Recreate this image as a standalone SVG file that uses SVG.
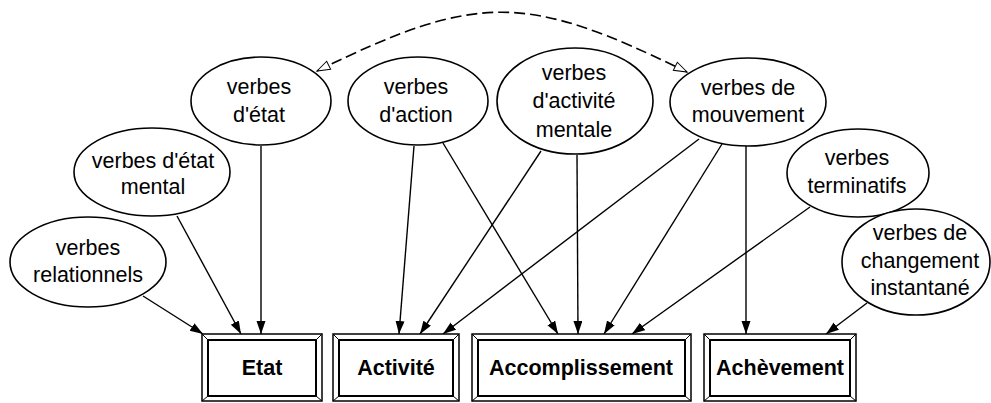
<svg xmlns="http://www.w3.org/2000/svg" width="991" height="403" viewBox="0 0 991 403">
<style>
.e{fill:#fff;stroke:#000;stroke-width:1.6}
.t{font-family:"Liberation Sans",Arial,sans-serif;font-size:21.5px;text-anchor:middle;fill:#000}
.b{font-family:"Liberation Sans",Arial,sans-serif;font-size:21.5px;font-weight:bold;text-anchor:middle;fill:#000}
.o{fill:#fff;stroke:#000;stroke-width:1.5}
.i{fill:none;stroke:#000;stroke-width:2}
.d{stroke:#000;stroke-width:1}
.c{stroke:#000;stroke-width:1.4;fill:none;marker-end:url(#ah)}
.dash{stroke:#000;stroke-width:1.6;fill:none;stroke-dasharray:11 5;marker-start:url(#oh0);marker-end:url(#oh)}
</style>
<defs>
<marker id="ah" markerUnits="userSpaceOnUse" markerWidth="14" markerHeight="10" refX="13" refY="4.5" orient="auto">
<path d="M0,0 L13,4.5 L0,9 Z" fill="#000"/>
</marker>
<marker id="oh" markerUnits="userSpaceOnUse" markerWidth="16" markerHeight="12" refX="14" refY="5.5" orient="auto">
<path d="M1,1 L14,5.5 L1,10 Z" fill="#fff" stroke="#000" stroke-width="1"/>
</marker>
<marker id="oh0" markerUnits="userSpaceOnUse" markerWidth="16" markerHeight="12" refX="14" refY="5.5" orient="auto-start-reverse">
<path d="M1,1 L14,5.5 L1,10 Z" fill="#fff" stroke="#000" stroke-width="1"/>
</marker>
</defs>
<rect width="991" height="403" fill="#fff"/>
<g id="connectors">
<path class="dash" d="M317,71 C478,-8 526,-7 687,72"/>
<line class="c" x1="143" y1="296" x2="203" y2="334"/>
<line class="c" x1="177" y1="216" x2="241" y2="334"/>
<line class="c" x1="261" y1="146" x2="261" y2="334"/>
<line class="c" x1="414" y1="146" x2="399" y2="334"/>
<line class="c" x1="443" y1="143" x2="558" y2="334"/>
<line class="c" x1="541" y1="151" x2="420" y2="334"/>
<line class="c" x1="577" y1="155" x2="578" y2="334"/>
<line class="c" x1="699" y1="139" x2="443" y2="334"/>
<line class="c" x1="722" y1="144" x2="604" y2="334"/>
<line class="c" x1="746" y1="146" x2="746" y2="334"/>
<line class="c" x1="810" y1="207" x2="632" y2="334"/>
<line class="c" x1="867" y1="303" x2="826" y2="334"/>
</g>
<g id="n-relationnels">
<ellipse class="e" cx="88" cy="262" rx="78" ry="45"/>
<text class="t" x="88" y="255">verbes</text>
<text class="t" x="88" y="282">relationnels</text>
</g>
<g id="n-etat-mental">
<ellipse class="e" cx="152" cy="172" rx="78" ry="44"/>
<text class="t" x="153" y="168">verbes d'état</text>
<text class="t" x="153" y="194">mental</text>
</g>
<g id="n-etat">
<ellipse class="e" cx="261" cy="101" rx="70" ry="44"/>
<text class="t" x="259" y="94">verbes</text>
<text class="t" x="259" y="122">d'état</text>
</g>
<g id="n-action">
<ellipse class="e" cx="418" cy="101" rx="70" ry="44"/>
<text class="t" x="416" y="94">verbes</text>
<text class="t" x="416" y="122">d'action</text>
</g>
<g id="n-activite-mentale">
<ellipse class="e" cx="575" cy="101" rx="78" ry="53"/>
<text class="t" x="574" y="80">verbes</text>
<text class="t" x="574" y="108">d'activité</text>
<text class="t" x="574" y="137">mentale</text>
</g>
<g id="n-mouvement">
<ellipse class="e" cx="748" cy="102" rx="78" ry="44"/>
<text class="t" x="748" y="95">verbes de</text>
<text class="t" x="748" y="122">mouvement</text>
</g>
<g id="n-terminatifs">
<ellipse class="e" cx="858" cy="173" rx="71" ry="44"/>
<text class="t" x="857" y="165">verbes</text>
<text class="t" x="857" y="193">terminatifs</text>
</g>
<g id="n-changement">
<ellipse class="e" cx="916" cy="262" rx="74" ry="53"/>
<text class="t" x="920" y="240">verbes de</text>
<text class="t" x="920" y="268">changement</text>
<text class="t" x="920" y="295">instantané</text>
</g>
<g id="b-etat">
<rect class="o" x="202" y="334" width="120" height="67"/>
<rect class="i" x="208" y="340" width="108" height="56"/>
<path class="d" d="M202,334 L208,340 M322,334 L316,340 M202,401 L208,396 M322,401 L316,396"/>
<text class="b" x="262" y="375">Etat</text>
</g>
<g id="b-activite">
<rect class="o" x="333" y="334" width="126" height="67"/>
<rect class="i" x="339" y="340" width="114" height="56"/>
<path class="d" d="M333,334 L339,340 M459,334 L453,340 M333,401 L339,396 M459,401 L453,396"/>
<text class="b" x="396" y="375">Activité</text>
</g>
<g id="b-accomplissement">
<rect class="o" x="472" y="334" width="219" height="67"/>
<rect class="i" x="478" y="340" width="207" height="56"/>
<path class="d" d="M472,334 L478,340 M691,334 L685,340 M472,401 L478,396 M691,401 L685,396"/>
<text class="b" x="581" y="375">Accomplissement</text>
</g>
<g id="b-achevement">
<rect class="o" x="704" y="334" width="152" height="67"/>
<rect class="i" x="710" y="340" width="140" height="56"/>
<path class="d" d="M704,334 L710,340 M856,334 L850,340 M704,401 L710,396 M856,401 L850,396"/>
<text class="b" x="780" y="375">Achèvement</text>
</g>
</svg>
